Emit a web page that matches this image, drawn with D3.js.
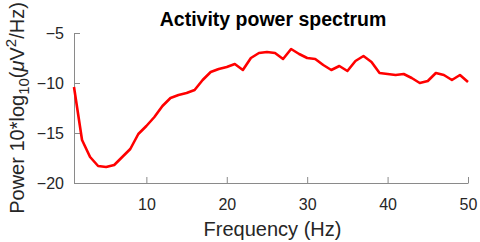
<!DOCTYPE html>
<html lang="en">
<head>
<meta charset="UTF-8">
<title>Activity power spectrum</title>
<script src="https://d3js.org/d3.v7.min.js"></script>
<style>
  body { margin: 0; background: #fff; }
  text { font-family: "Liberation Sans", Arial, sans-serif; }
</style>
</head>
<body>
<svg id="chart" width="480" height="242"></svg>
<script>
// data (one point per Hz)
const freqs = d3.range(1, 51);
const power = [
  -10.4, -15.7, -17.4, -18.3, -18.4, -18.2, -17.4, -16.6, -15.1, -14.3,
  -13.4, -12.3, -11.5, -11.2, -11.0, -10.7, -9.7, -8.9, -8.6, -8.4,
  -8.1, -8.7, -7.5, -7.0, -6.9, -7.0, -7.6, -6.6, -7.1, -7.5,
  -7.6, -8.2, -8.7, -8.3, -8.8, -7.8, -7.3, -7.9, -9.0, -9.1,
  -9.2, -9.1, -9.5, -10.0, -9.8, -9.0, -9.2, -9.7, -9.2, -9.9
];
const xTicks = [10, 20, 30, 40, 50];
const yTicks = [-5, -10, -15, -20];

const margin = { top: 33, right: 12, bottom: 59, left: 74 };
const width = 480, height = 242;

const svg = d3.select("#chart");

const x = d3.scaleLinear().domain([1, 50]).range([margin.left, width - margin.right]);
const y = d3.scaleLinear().domain([-20, -5]).range([height - margin.bottom, margin.top]);

// axes (MATLAB look: ticks inward, box off)
const xAxis = svg.append("g")
  .attr("transform", `translate(0,${height - margin.bottom})`)
  .call(d3.axisBottom(x).tickValues(xTicks).tickSizeInner(-6).tickSizeOuter(0).tickPadding(16));

const yAxis = svg.append("g")
  .attr("transform", `translate(${margin.left},0)`)
  .call(d3.axisLeft(y).tickValues(yTicks).tickSizeInner(-6).tickSizeOuter(0).tickPadding(10));

[xAxis, yAxis].forEach(a => {
  a.select(".domain").attr("stroke", "#8a8a8a");
  a.selectAll(".tick line").attr("stroke", "#8a8a8a");
  a.selectAll(".tick text")
    .attr("fill", "#262626")
    .style("font-size", "16px")
    .style("font-family", "'Liberation Sans', Arial, sans-serif");
});

// curve
const line = d3.line()
  .x((d, i) => x(freqs[i]))
  .y(d => y(d));

svg.append("path")
  .datum(power)
  .attr("fill", "none")
  .attr("stroke", "#ff0000")
  .attr("stroke-width", 2.6)
  .attr("stroke-linejoin", "round")
  .attr("d", line);

// title
svg.append("text")
  .attr("x", 273)
  .attr("y", 26)
  .attr("text-anchor", "middle")
  .style("font-size", "19.5px")
  .style("font-weight", "bold")
  .attr("fill", "#000")
  .text("Activity power spectrum");

// x label
svg.append("text")
  .attr("x", 272.5)
  .attr("y", 236)
  .attr("text-anchor", "middle")
  .style("font-size", "20px")
  .attr("fill", "#262626")
  .text("Frequency (Hz)");

// y label with sub/superscripts
const yl = svg.append("text")
  .attr("transform", `translate(24,${(margin.top + height - margin.bottom) / 2}) rotate(-90)`)
  .attr("text-anchor", "middle")
  .style("font-size", "20px")
  .attr("fill", "#262626");
yl.append("tspan").text("Power 10*log");
yl.append("tspan").attr("dy", 5).style("font-size", "15px").text("10");
yl.append("tspan").attr("dy", -5).text("(");
yl.append("tspan").style("font-style", "italic").text("\u03bc");
yl.append("tspan").text("V");
yl.append("tspan").attr("dy", -8).style("font-size", "15px").text("2");
yl.append("tspan").attr("dy", 8).text("/Hz)");
</script>
</body>
</html>
